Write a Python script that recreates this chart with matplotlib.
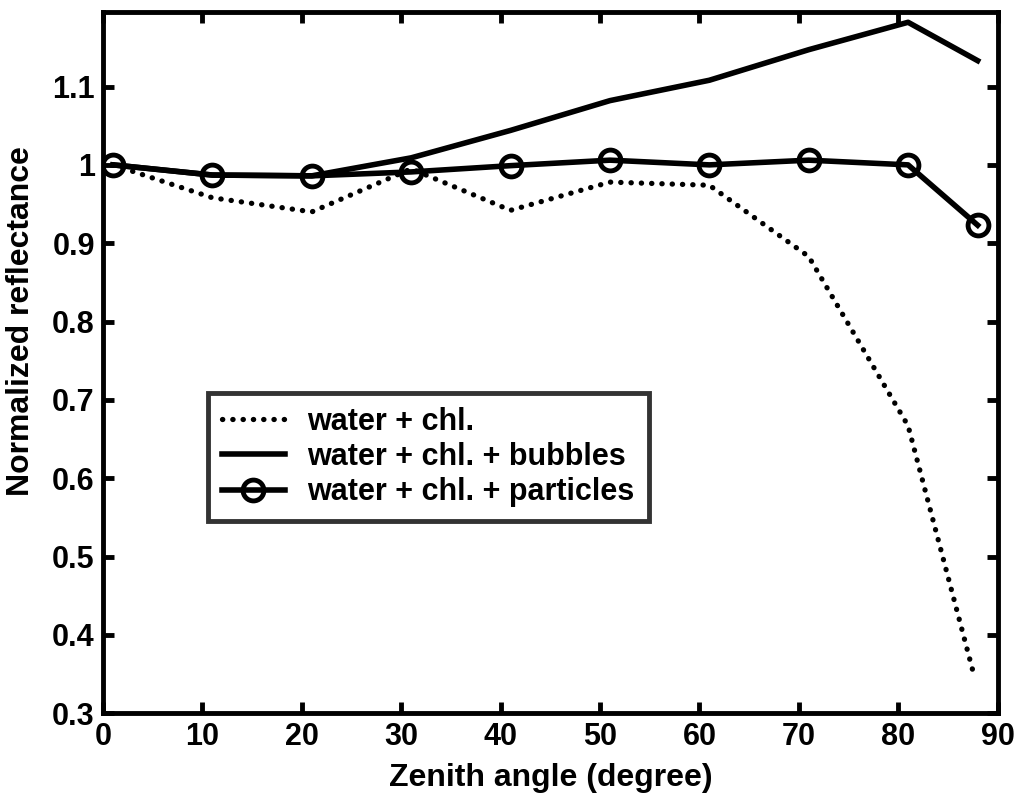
import numpy as np
import matplotlib
matplotlib.use("Agg")
import matplotlib.pyplot as plt
from matplotlib.ticker import FuncFormatter

plt.rcParams['font.family'] = ['Liberation Sans', 'DejaVu Sans']
plt.rcParams['font.weight'] = 'bold'

# zenith angles (degree)
angle = [1, 11, 21, 31, 41, 51, 61, 71, 81, 88]
angle_chl = [1, 11, 21, 31, 41, 51, 61, 71, 81, 87.5]

chl = [1.0, 0.958, 0.940, 0.995, 0.942, 0.978, 0.974, 0.883, 0.667, 0.355]
bubbles = [1.0, 0.987, 0.986, 1.009, 1.044, 1.082, 1.108, 1.147, 1.182, 1.133]
particles = [1.0, 0.987, 0.986, 0.991, 0.999, 1.006, 1.0, 1.006, 1.0, 0.923]

labels = ['water + chl.', 'water + chl. + bubbles', 'water + chl. + particles']

fig = plt.figure(figsize=(10.21, 8.06), dpi=100)
ax = fig.add_axes([0.101, 0.115, 0.876, 0.870])

ax.plot(angle_chl, chl, color='black', lw=3.8, linestyle=(0, (0.05, 1.9)),
        dash_capstyle='round', label=labels[0])
ax.plot(angle, bubbles, color='black', lw=4, label=labels[1])
ax.plot(angle, particles, color='black', lw=4, marker='o', markersize=15,
        markerfacecolor='none', markeredgewidth=3.5, label=labels[2])

ax.set_xlim(0, 90)
ax.set_ylim(0.3, 1.195)
ax.set_xticks(np.arange(0, 91, 10))
ax.set_yticks([0.3, 0.4, 0.5, 0.6, 0.7, 0.8, 0.9, 1.0, 1.1])
ax.yaxis.set_major_formatter(FuncFormatter(lambda v, p: '%g' % round(v, 2)))

ax.tick_params(direction='in', length=8, width=3.5, labelsize=22, pad=6,
               top=True, right=True)
for s in ax.spines.values():
    s.set_linewidth(3.5)

ax.set_xlabel('Zenith angle (degree)', fontsize=23, fontweight='bold', labelpad=8)
ax.set_ylabel('Normalized reflectance', fontsize=23, fontweight='bold')
ax.yaxis.set_label_coords(-0.075, 0.56)

leg = ax.legend(loc='upper left', bbox_to_anchor=(0.1175, 0.4565), fontsize=22,
                frameon=True, fancybox=False, handlelength=2.05, borderpad=0.45,
                labelspacing=0.17, handletextpad=0.75, borderaxespad=0)
leg.get_frame().set_edgecolor('black')
leg.get_frame().set_linewidth(3.5)
for t in leg.get_texts():
    t.set_fontweight('bold')

fig.savefig('out.png', dpi=100)
